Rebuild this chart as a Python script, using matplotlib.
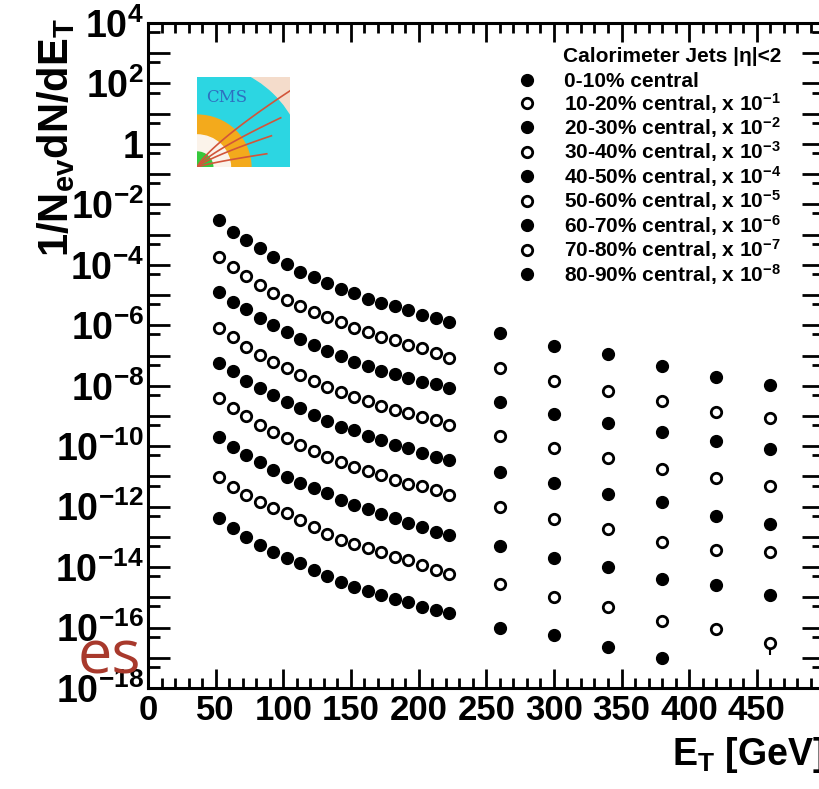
import numpy as np
import matplotlib.pyplot as plt
from matplotlib.patches import Wedge
from matplotlib.ticker import FixedLocator, FixedFormatter, NullFormatter

plt.rcParams["font.family"] = ["Liberation Sans", "DejaVu Sans"]
plt.rcParams["font.weight"] = "bold"
plt.rcParams["axes.labelweight"] = "bold"
plt.rcParams["mathtext.fontset"] = "custom"
plt.rcParams["mathtext.rm"] = "Liberation Sans:bold"
plt.rcParams["mathtext.it"] = "Liberation Sans:bold:italic"
plt.rcParams["mathtext.bf"] = "Liberation Sans:bold"
plt.rcParams["mathtext.default"] = "regular"

# jet E_T bin centres [GeV]
et_low = [52.5, 62.5, 72.5, 82.5, 92.5, 102.5, 112.5, 122.5, 132.5, 142.5,
          152.5, 162.5, 172.5, 182.5, 192.5, 202.5, 212.5, 222.5]
et_high = [260, 300, 340, 380, 420, 460]

# 1/N_ev dN/dE_T per centrality class (not yet scaled)
c0_10 = [3.0e-3, 1.2e-3, 6.6e-4, 3.6e-4, 1.8e-4, 1.07e-4, 5.8e-5, 4.0e-5, 2.5e-5,
         1.6e-5, 1.17e-5, 7.4e-6, 5.5e-6, 4.3e-6, 3.2e-6, 2.2e-6, 1.7e-6, 1.3e-6]
c10_20 = [1.82e-3, 8.5e-4, 4.3e-4, 2.15e-4, 1.17e-4, 6.9e-5, 4.3e-5, 2.75e-5, 1.88e-5,
          1.29e-5, 8.1e-6, 6.0e-6, 4.1e-6, 3.27e-6, 2.23e-6, 1.77e-6, 1.21e-6, 8.3e-7]
c20_30 = [1.26e-3, 5.9e-4, 3.46e-4, 1.74e-4, 1.02e-4, 6.0e-5, 3.5e-5, 2.2e-5, 1.41e-5,
          9.6e-6, 6.1e-6, 4.5e-6, 3.1e-6, 2.45e-6, 1.8e-6, 1.33e-6, 1.14e-6, 8.4e-7]
c30_40 = [8.1e-4, 4.1e-4, 1.91e-4, 1.04e-4, 6.1e-5, 3.9e-5, 2.27e-5, 1.44e-5, 9.1e-6,
          6.2e-6, 4.25e-6, 3.1e-6, 2.14e-6, 1.58e-6, 1.26e-6, 9.2e-7, 7.4e-7, 5.0e-7]
c40_50 = [5.7e-4, 3.1e-4, 1.44e-4, 8.4e-5, 4.9e-5, 2.9e-5, 1.84e-5, 1.08e-5, 6.8e-6,
          4.3e-6, 3.4e-6, 2.18e-6, 1.61e-6, 1.10e-6, 8.7e-7, 6.0e-7, 4.4e-7, 3.5e-7]
c50_60 = [3.9e-4, 1.84e-4, 1.0e-4, 5.0e-5, 2.95e-5, 1.87e-5, 1.10e-5, 6.95e-6, 4.4e-6,
          3.0e-6, 2.05e-6, 1.51e-6, 1.12e-6, 7.6e-7, 5.6e-7, 4.8e-7, 3.56e-7, 2.43e-7]
c60_70 = [2.0e-4, 9.4e-5, 5.1e-5, 3.0e-5, 1.63e-5, 9.6e-6, 6.1e-6, 4.15e-6, 2.83e-6,
          1.66e-6, 1.14e-6, 8.4e-7, 5.7e-7, 4.2e-7, 2.9e-7, 2.1e-7, 1.45e-7, 1.16e-7]
c70_80 = [9.6e-5, 4.5e-5, 2.43e-5, 1.43e-5, 9.0e-6, 6.2e-6, 3.6e-6, 2.12e-6, 1.25e-6,
          7.9e-7, 5.8e-7, 4.3e-7, 3.17e-7, 2.16e-7, 1.72e-7, 1.18e-7, 8.0e-8, 5.9e-8]
c80_90 = [4.2e-5, 1.97e-5, 9.9e-6, 5.4e-6, 3.17e-6, 2.0e-6, 1.37e-6, 8.0e-7, 5.1e-7,
          3.2e-7, 2.2e-7, 1.63e-7, 1.2e-7, 8.8e-8, 7.0e-8, 4.8e-8, 3.8e-8, 3.0e-8]

# wide bins at high E_T
h0_10 = [5.6e-7, 2.07e-7, 1.12e-7, 4.5e-8, 1.95e-8, 1.06e-8]
h10_20 = [3.9e-7, 1.44e-7, 6.7e-8, 3.1e-8, 1.36e-8, 8.6e-9]
h20_30 = [2.9e-7, 1.16e-7, 5.9e-8, 2.95e-8, 1.49e-8, 8.1e-9]
h30_40 = [2.18e-7, 8.7e-8, 4.1e-8, 1.76e-8, 8.9e-9, 4.8e-9]
h40_50 = [1.40e-7, 6.1e-8, 2.62e-8, 1.43e-8, 4.9e-9, 2.67e-9]
h50_60 = [9.75e-8, 3.9e-8, 1.83e-8, 6.8e-9, 3.7e-9, 3.2e-9]
h60_70 = [5.0e-8, 2.0e-8, 1.01e-8, 4.06e-9, 2.56e-9, 1.2e-9]
h70_80 = [2.77e-8, 1.03e-8, 4.8e-9, 1.65e-9, 9.0e-10, 3.1e-10]
h80_90 = [9.7e-9, 5.7e-9, 2.28e-9, 9.9e-10]
h70_80_err = [0, 0, 0, 0, 0, 1.9e-10]

klassen = ["0-10%", "10-20%", "20-30%", "30-40%", "40-50%",
           "50-60%", "60-70%", "70-80%", "80-90%"]
skalen_exp = [0, -1, -2, -3, -4, -5, -6, -7, -8]

tief = [c0_10, c10_20, c20_30, c30_40, c40_50, c50_60, c60_70, c70_80, c80_90]
hoch = [h0_10, h10_20, h20_30, h30_40, h40_50, h50_60, h60_70, h70_80, h80_90]

fig = plt.figure(figsize=(8.19, 7.89), dpi=100)
ax = fig.add_axes([0.1807, 0.128, 0.826, 0.8428])

for i, (name, k) in enumerate(zip(klassen, skalen_exp)):
    skala = 10.0 ** k
    offen = (i % 2 == 1)
    stil = dict(ls="none", marker="o", mec="black",
                mfc="white" if offen else "black",
                ms=7.5 if offen else 8.5, mew=2.0 if offen else 1.0)
    if k == 0:
        label = name + " central"
    else:
        label = name + " central, x 10$^{%d}$" % k
    ax.plot(et_low, np.array(tief[i]) * skala, label=label, **stil)
    yh = np.array(hoch[i]) * skala
    if hoch[i] is h70_80:
        ax.errorbar(et_high[:len(yh)], yh, yerr=np.array(h70_80_err) * skala,
                    ecolor="black", elinewidth=1.5, capsize=0, **stil)
    else:
        ax.plot(et_high[:len(yh)], yh, **stil)

ax.set_yscale("log")
ax.set_xlim(0, 500)
ax.set_ylim(1e-18, 1e4)

# Achsen im ROOT-Stil
dekaden = np.arange(-18, 5)
ax.yaxis.set_major_locator(FixedLocator(10.0 ** dekaden))
ylabels = []
for d in dekaden:
    if d % 2 != 0:
        ylabels.append("")
    elif d == 0:
        ylabels.append("1")
    else:
        ylabels.append("10$^{%d}$" % d)
ax.yaxis.set_major_formatter(FixedFormatter(ylabels))
ax.yaxis.set_minor_locator(FixedLocator(5 * 10.0 ** dekaden[:-1]))
ax.yaxis.set_minor_formatter(NullFormatter())

ax.xaxis.set_major_locator(FixedLocator(np.arange(0, 501, 50)))
ax.xaxis.set_major_formatter(FixedFormatter([str(v) for v in range(0, 451, 50)] + [""]))
ax.xaxis.set_minor_locator(FixedLocator(np.arange(0, 501, 10)))

for s in ax.spines.values():
    s.set_linewidth(2.2)
ax.tick_params(which="both", direction="in", top=True, right=True, width=2.0)
ax.tick_params(axis="y", which="major", length=16, labelsize=27, pad=3)
ax.tick_params(axis="y", which="minor", length=8.5)
ax.tick_params(axis="x", which="major", length=14, labelsize=25, pad=4)
ax.tick_params(axis="x", which="minor", length=7)

ax.set_ylabel("1/N$_{ev}$dN/dE$_T$", fontsize=30, loc="top")
ax.yaxis.set_label_coords(-0.105, 1.008)
ax.set_xlabel("E$_T$ [GeV]", fontsize=27, loc="right")
ax.xaxis.set_label_coords(1.0, -0.07)
ax.xaxis.label.set_va("top")

leg = ax.legend(loc="upper left", bbox_to_anchor=(0.526, 0.942), frameon=False,
                fontsize=15, numpoints=1, handlelength=1.2,
                handletextpad=1.2, labelspacing=-0.02, borderpad=0)
ax.text(0.613, 0.95, "Calorimeter Jets |η|<2", transform=ax.transAxes,
        fontsize=15, va="center", ha="left")

# CMS-Logo
logo = fig.add_axes([0.2405, 0.788, 0.1136, 0.114])
logo.set_xlim(0, 1)
logo.set_ylim(0, 1)
logo.set_facecolor("#f4dccb")
logo.add_patch(Wedge((0, 0), 1.15, 0, 90, color="#2cd6e2"))
logo.add_patch(Wedge((0, 0), 0.58, 0, 90, color="#f3aa1c"))
logo.add_patch(Wedge((0, 0), 0.36, 0, 90, color="#fbf3ea"))
logo.add_patch(Wedge((0, 0), 0.17, 0, 90, color="#36c83c"))
for (a, b) in [(1.0, 0.85), (0.9, 0.55), (0.8, 0.35), (0.75, 0.15)]:
    t = np.linspace(0, 1, 30)
    logo.plot(t * a, b * t ** 0.8, color="#d2553a", lw=1.2)
logo.text(0.1, 0.78, "CMS", color="#2f6fc0", fontsize=12, family="DejaVu Serif",
          weight="normal", va="center")
logo.set_xticks([])
logo.set_yticks([])
for s in logo.spines.values():
    s.set_visible(False)

fig.text(78 / 819, 1 - 674 / 789, "es", color="#a8392c", fontsize=44,
         family="Open Sans", weight="normal", va="baseline")

plt.savefig("out.png", dpi=100)
